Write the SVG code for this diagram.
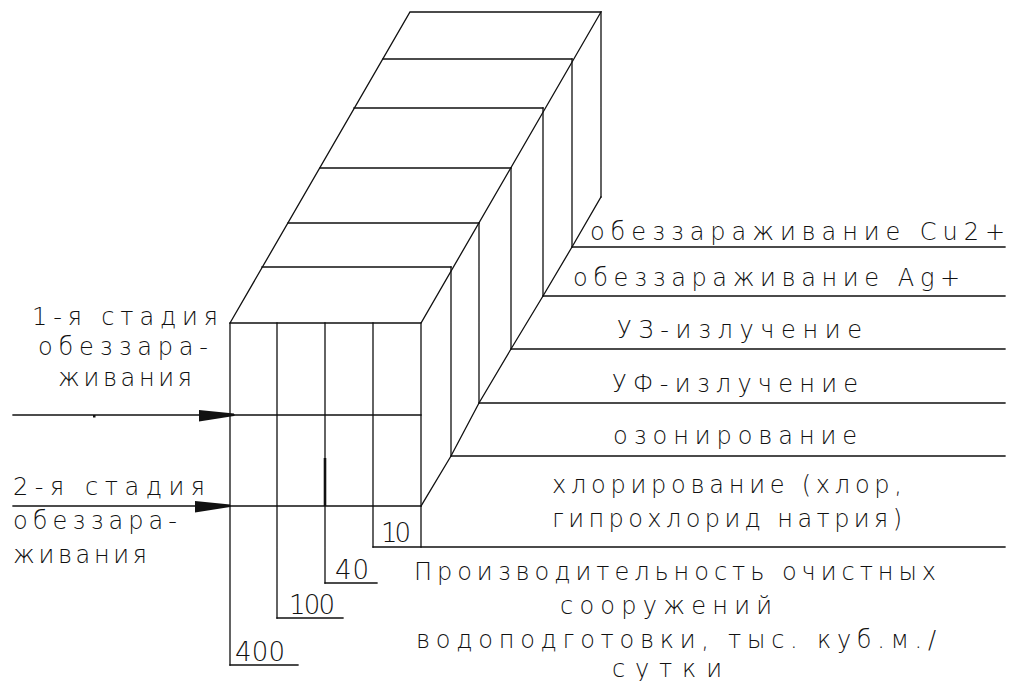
<svg xmlns="http://www.w3.org/2000/svg" width="1012" height="681" viewBox="0 0 1012 681">
<defs>
<marker id="ah" markerUnits="userSpaceOnUse" markerWidth="40" markerHeight="16" viewBox="0 -8 40 16" refX="35" refY="0" orient="auto">
<path d="M0,-5 L35,-1.5 L35,1 L0,6.5 Z" fill="#111"/>
</marker>
</defs>
<style>
.ln{stroke:#111;stroke-width:1.3;fill:none;stroke-linecap:square}
.bold{stroke:#111;stroke-width:2.6;fill:none}
text{font-family:"DejaVu Sans","Liberation Sans",sans-serif;font-weight:200;font-size:24px;fill:#111}
.num{font-size:26px}
</style>
<rect width="1012" height="681" fill="#fff"/>
<g id="prism">
<path class="ln" d="M410,12 L601,12 L421,323 L230,323 Z"/>
<path class="ln" d="M383,59 H572 M354,108 H543 M320,168 H511 M288,223 H479 M262,267 H451"/>
<path class="ln" d="M601,12 V197 M572,59 V247 M543,108 V296 M511,168 V349 M479,223 V403 M451,267 V456 M421,323 V547"/>
<path class="ln" d="M601,197 L572,247 L543,296 L511,349 L479,403 L451,456 L421,506"/>
<path class="ln" d="M230,323 V665 M277,323 V618 M325,323 V583 M373,323 V547"/>
<path class="ln" d="M230,415 H421 M230,506 H421"/>
<path class="bold" d="M325,458 V506"/>
</g>
<g id="label-lines">
<path class="ln" d="M572,247 H1005 M543,296 H1005 M511,349 H1005 M479,403 H1005 M451,456 H1005 M373,547 H1005"/>
<path class="ln" d="M325,583 H377 M277,618 H343 M230,665 H298"/>
</g>
<g id="connectors">
<path class="ln" d="M13,415 H234" marker-end="url(#ah)"/>
<path class="ln" d="M13,506 H230" marker-end="url(#ah)"/>
<rect x="93" y="415" width="2.5" height="2.5" fill="#111"/>
</g>
<g id="node-cu">
<text x="590" y="240" textLength="415" lengthAdjust="spacing">обеззараживание Cu2+</text>
</g>
<g id="node-ag">
<text x="573" y="286" textLength="387" lengthAdjust="spacing">обеззараживание Ag+</text>
</g>
<g id="node-uz">
<text x="617" y="338" textLength="245" lengthAdjust="spacing">УЗ-излучение</text>
</g>
<g id="node-uf">
<text x="612" y="392" textLength="246" lengthAdjust="spacing">УФ-излучение</text>
</g>
<g id="node-ozone">
<text x="613" y="444" textLength="244" lengthAdjust="spacing">озонирование</text>
</g>
<g id="node-chlor">
<text x="552" y="493" textLength="350" lengthAdjust="spacing">хлорирование (хлор,</text>
<text x="552" y="527" textLength="350" lengthAdjust="spacing">гипрохлорид натрия)</text>
</g>
<g id="node-stage1">
<text x="32" y="325" textLength="186" lengthAdjust="spacing">1-я стадия</text>
<text x="38" y="355" textLength="170" lengthAdjust="spacing">обеззара-</text>
<text x="58" y="386" textLength="134" lengthAdjust="spacing">живания</text>
</g>
<g id="node-stage2">
<text x="13" y="495" textLength="192" lengthAdjust="spacing">2-я стадия</text>
<text x="13" y="529" textLength="164" lengthAdjust="spacing">обеззара-</text>
<text x="13" y="563" textLength="134" lengthAdjust="spacing">живания</text>
</g>
<g id="node-values">
<text class="num" x="381" y="542" textLength="30" lengthAdjust="spacing">10</text>
<text class="num" x="335" y="579" textLength="34" lengthAdjust="spacing">40</text>
<text class="num" x="289" y="614" textLength="46" lengthAdjust="spacing">100</text>
<text class="num" x="235" y="661" textLength="50" lengthAdjust="spacing">400</text>
</g>
<g id="node-capacity">
<text x="414" y="580" textLength="522" lengthAdjust="spacing">Производительность очистных</text>
<text x="560" y="614" textLength="212" lengthAdjust="spacing">сооружений</text>
<text x="416" y="648" textLength="520" lengthAdjust="spacing">водоподготовки, тыс. куб.м./</text>
<text x="612" y="677" textLength="110" lengthAdjust="spacing">сутки</text>
</g>
</svg>
